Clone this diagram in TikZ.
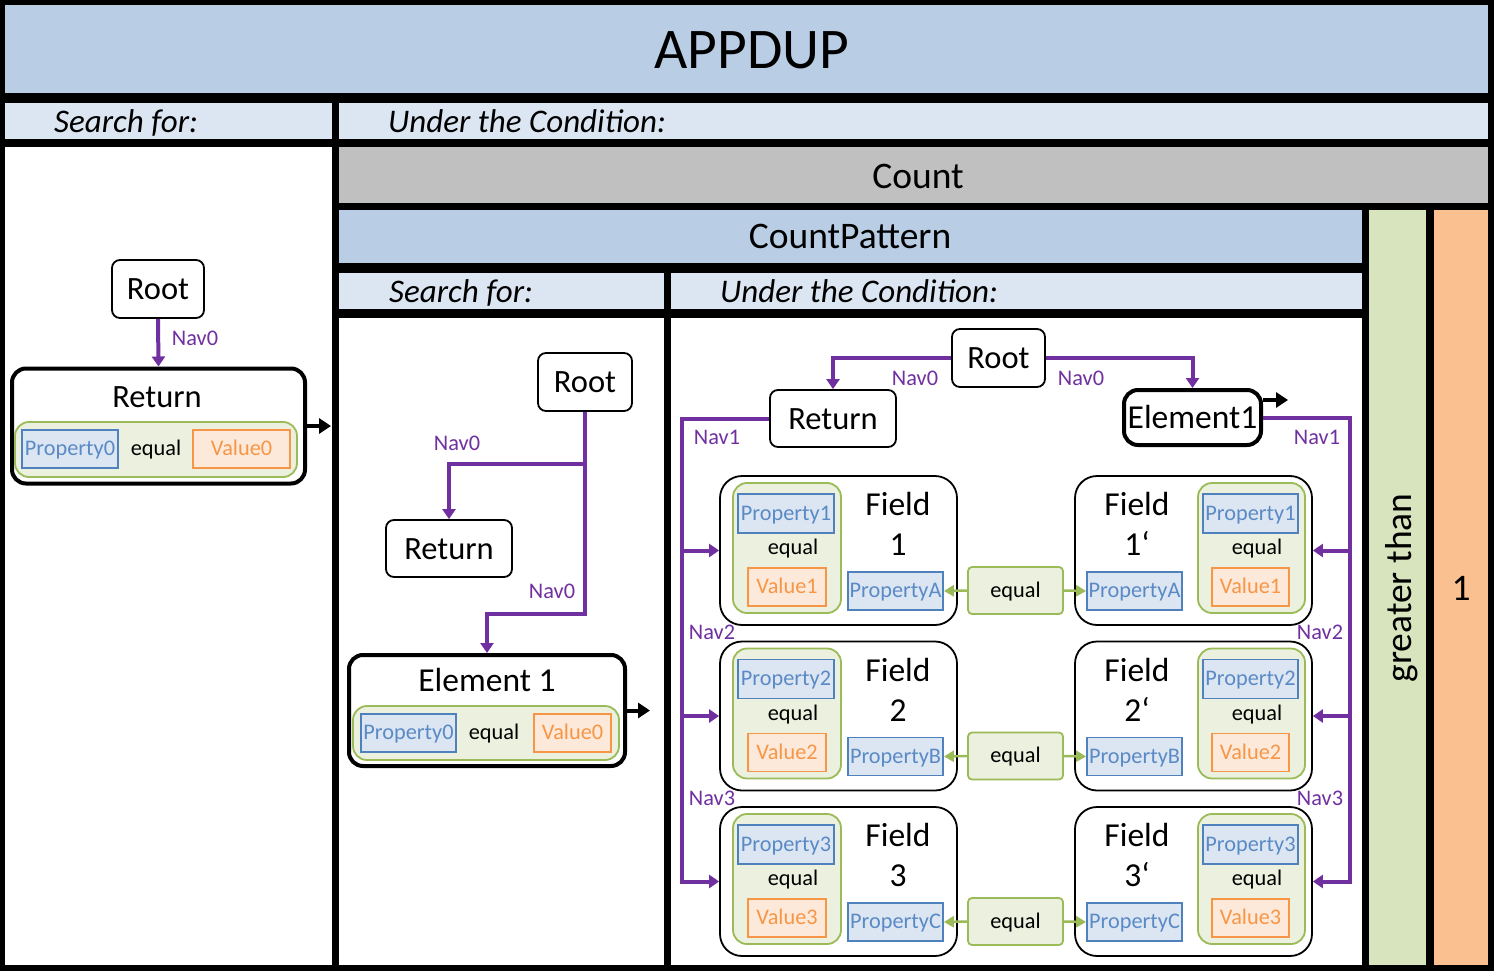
\documentclass[tikz,border=0pt]{standalone}
\usepackage{fontspec}
\setmainfont{Carlito}
\usetikzlibrary{arrows.meta}
\definecolor{titleblue}{HTML}{B9CDE5}
\definecolor{lightblue}{HTML}{DCE6F2}
\definecolor{greyc}{HTML}{C0C0C0}
\definecolor{greencol}{HTML}{D7E4BD}
\definecolor{orangecol}{HTML}{FAC090}
\definecolor{navpurple}{HTML}{7030A0}
\definecolor{grpfill}{HTML}{EBF1DE}
\definecolor{grpdraw}{HTML}{9BBB59}
\definecolor{propdraw}{HTML}{4F81BD}
\definecolor{proptext}{HTML}{5A8AC6}
\definecolor{valfill}{HTML}{FDE9D9}
\definecolor{valdraw}{HTML}{F79646}
\tikzset{
  sz/.style n args={2}{minimum width=#1pt, minimum height=#2pt},
  s21/.style={font=\fontsize{22.3}{26}\selectfont, text height=14.4pt, text depth=0.5pt, inner sep=0pt},
  s31/.style={font=\fontsize{32.5}{39}\selectfont, text height=21pt, text depth=0pt, inner sep=0pt},
  s32/.style={font=\fontsize{33.5}{40}\selectfont, text height=21.6pt, text depth=0pt, inner sep=0pt},
  s36/.style={font=\fontsize{37.5}{45}\selectfont, text height=24.2pt, text depth=0pt, inner sep=0pt},
  hdr/.style={font=\fontsize{33}{40}\selectfont\itshape, text height=21.3pt, text depth=0pt, inner sep=0pt, anchor=west},
  rbox/.style={draw=black, line width=1.8pt, rounded corners=8pt, fill=white, s31},
  tbox/.style={draw=black, line width=4pt, rounded corners=14pt, fill=white, inner sep=0pt},
  grp/.style={draw=grpdraw, fill=grpfill, line width=1.8pt, rounded corners=14pt, inner sep=0pt},
  prop/.style={draw=propdraw, fill=lightblue, line width=1.8pt, text=proptext, s21},
  val/.style={draw=valdraw, fill=valfill, line width=1.8pt, text=valdraw, s21},
  fbox/.style={draw=black, line width=1.8pt, rounded corners=22pt, fill=white, inner sep=0pt},
  eqbox/.style={draw=grpdraw, fill=grpfill, line width=1.8pt, rounded corners=4pt, s21},
  nav/.style={draw=navpurple, line width=4pt, -{Triangle[length=10pt,width=13pt]}},
  navl/.style={text=navpurple, s21},
  blk/.style={draw=black, line width=4pt, -{Triangle[length=12pt,width=15pt]}},
  garr/.style={draw=grpdraw, line width=2.5pt, -{Triangle[length=10pt,width=11pt]}},
}
\begin{document}
\begin{tikzpicture}[x=1pt,y=-1pt]
\useasboundingbox (0,0) rectangle (1494,971);
% panels
\fill[black] (0,0) rectangle (1494,971);
\fill[titleblue] (5,5) rectangle (1488,93);
\fill[lightblue] (5,103) rectangle (332,139);
\fill[lightblue] (339,103) rectangle (1488,139);
\fill[white] (5,147) rectangle (332,965);
\fill[greyc] (339,147) rectangle (1488,203);
\fill[titleblue] (339,210) rectangle (1362,263);
\fill[greencol] (1369,210) rectangle (1426,965);
\fill[orangecol] (1434,210) rectangle (1488,965);
\fill[lightblue] (339,273) rectangle (664,309);
\fill[lightblue] (671,273) rectangle (1362,309);
\fill[white] (339,318) rectangle (664,965);
\fill[white] (671,318) rectangle (1362,965);
% panel texts
\node[font=\fontsize{57.5}{68}\selectfont, text height=37pt, text depth=0pt, inner sep=0pt] (title) at (752,50) {APPDUP};
\node[hdr] (sf1) at (54,122) {Search for:};
\node[hdr] (uc1) at (388,122) {Under the Condition:};
\node[s36] (count) at (918,176) {Count};
\node[s36] (cp) at (850,236) {CountPattern};
\node[hdr] (sf2) at (389,292) {Search for:};
\node[hdr] (uc2) at (720,292) {Under the Condition:};
\node[s36, rotate=90] (gt) at (1399,588) {greater than};
\node[s36] (one) at (1461,588) {1};

% left panel
\node[rbox, sz={92}{58}] (root1) at (158,289) {Root};
\node[tbox, sz={293}{115}] (ret1) at (158.5,426) {};
\node[s31] (ret1t) at (157,397) {Return};
\node[grp, sz={282}{55}] (g1) at (156,449.5) {};
\node[prop, sz={96}{38}] (p1) at (70,449) {Property0};
\node[s21] (e1) at (156,449) {equal};
\node[val, sz={97}{38}] (v1) at (241.5,449) {Value0};
\draw[nav] (root1.south) -- (ret1.north);
\node[navl] (n1) at (195,339) {Nav0};
\coordinate (o1) at (331,426);
\draw[blk] (ret1.east) -- (o1);

% middle panel
\node[rbox, sz={94}{58}] (root2) at (585,382) {Root};
\node[rbox, sz={126}{57}] (ret2) at (449,548.5) {Return};
\node[tbox, sz={276}{111}] (el1) at (487,710.5) {};
\node[s32] (el1t) at (487,681) {Element 1};
\node[grp, sz={266}{54}] (g2) at (486,733) {};
\node[prop, sz={95}{38}] (p2) at (408.5,733) {Property0};
\node[s21] (e2) at (494,733) {equal};
\node[val, sz={77}{38}] (v2) at (572.5,733) {Value0};
\draw[nav] (root2.south) -- ++(0,202) -| (el1.north);
\coordinate (br2) at (585,464);
\draw[nav] (br2) -| (ret2.north);
\node[navl] (n2a) at (457,444) {Nav0};
\node[navl] (n2b) at (552,592) {Nav0};
\coordinate (o2) at (650,710.5);
\draw[blk] (el1.east) -- (o2);

% right panel
\node[rbox, sz={93}{58}] (root3) at (998.5,358) {Root};
\node[rbox, sz={126}{57}] (ret3) at (833,418.5) {Return};
\node[tbox, sz={137}{55}, s32] (el3) at (1192.5,417.5) {Element1};
\draw[nav] (root3.west) -| (ret3.north);
\draw[nav] (root3.east) -| (el3.north);
\node[navl] (n3a) at (915,379) {Nav0};
\node[navl] (n3b) at (1081,379) {Nav0};
\coordinate (o3) at (1288,400);
\draw[blk] ([yshift=17.5pt]el3.east) -- (o3);

\foreach \i/\d/\L/\q in {1/0/A/1, 2/165.5/B/2, 3/331/C/3} {
  \node[fbox, sz={237}{149}] (fL\i) at (838.5,550.5+\d) {};
  \node[grp, sz={108}{130}] (gL\i) at (787,548+\d) {};
  \node[prop, sz={96}{39}] (pL\i) at (786,513.5+\d) {Property\q};
  \node[s21] (eL\i) at (793,548+\d) {equal};
  \node[val, sz={78}{38}] (vL\i) at (787,587+\d) {Value\q};
  \node[s32] (ftL\i) at (898,505+\d) {Field};
  \node[s32] (fnL\i) at (898,545+\d) {\q};
  \node[prop, sz={95}{38}] (paL\i) at (895.5,591+\d) {Property\L};
  \node[eqbox, sz={95}{47}] (eq\i) at (1015.5,590.5+\d) {equal};
  \node[fbox, sz={237}{149}] (fR\i) at (1193.5,550.5+\d) {};
  \node[s32] (ftR\i) at (1137,505+\d) {Field};
  \node[s32] (fnR\i) at (1137,545+\d) {\q‘};
  \node[prop, sz={95}{38}] (paR\i) at (1134.5,591+\d) {Property\L};
  \node[grp, sz={107}{130}] (gR\i) at (1251.5,548+\d) {};
  \node[prop, sz={95}{39}] (pR\i) at (1250.5,513.5+\d) {Property\q};
  \node[s21] (eR\i) at (1257,548+\d) {equal};
  \node[val, sz={77}{38}] (vR\i) at (1250.5,587+\d) {Value\q};
  \draw[garr] (eq\i.west) -- (paL\i.east);
  \draw[garr] (eq\i.east) -- (paR\i.west);
}
% Nav1 trunks
\draw[nav] (ret3.west) -| ([xshift=-37pt]fL3.west) -- (fL3.west);
\draw[nav] ([xshift=-37pt]fL1.west) -- (fL1.west);
\draw[nav] ([xshift=-37pt]fL2.west) -- (fL2.west);
\draw[nav] (el3.east) -| ([xshift=37pt]fR3.east) -- (fR3.east);
\draw[nav] ([xshift=37pt]fR1.east) -- (fR1.east);
\draw[nav] ([xshift=37pt]fR2.east) -- (fR2.east);
\node[navl] (nl1) at (717,438) {Nav1};
\node[navl] (nl2) at (712,633) {Nav2};
\node[navl] (nl3) at (712,799) {Nav3};
\node[navl] (nr1) at (1317,438) {Nav1};
\node[navl] (nr2) at (1320,633) {Nav2};
\node[navl] (nr3) at (1320,799) {Nav3};
\end{tikzpicture}
\end{document}
